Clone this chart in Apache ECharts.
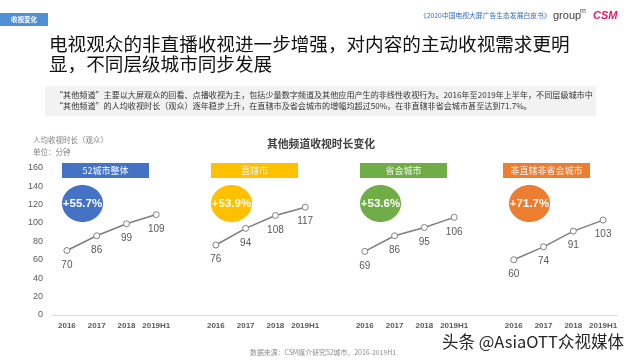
<!DOCTYPE html>
<html>
<head>
<meta charset="utf-8">
<script src="https://cdn.jsdelivr.net/npm/echarts@6/dist/echarts.min.js"></script>
<style>html,body{margin:0;padding:0;background:#fff;}#c{width:640px;height:360px;}</style>
</head>
<body>
<div id="c"></div>
<script>
// ---- data ----
var years = ['2016', '2017', '2018', '2019H1'];
var groupNames = ['52城市整体', '直辖市', '省会城市', '非直辖非省会城市'];
var values52 = [70, 86, 99, 109];
var valuesZhixia = [76, 94, 108, 117];
var valuesShenghui = [69, 86, 95, 106];
var valuesOther = [60, 74, 91, 103];
var growthLabels = ['+55.7%', '+53.9%', '+53.6%', '+71.7%'];
var yTicks = [0, 20, 40, 60, 80, 100, 120, 140, 160];

var groupColors = ['#4472c4', '#ffc000', '#70ad47', '#ed7d31'];
var allValues = [values52, valuesZhixia, valuesShenghui, valuesOther];

// build one category axis: 4 years per group, one empty slot between groups
var cats = [];
var seriesData = [[], [], [], []];
for (var g = 0; g < 4; g++) {
  for (var i = 0; i < years.length; i++) {
    cats.push(years[i]);
    for (var s = 0; s < 4; s++) seriesData[s].push(s === g ? allValues[g][i] : null);
  }
  if (g < 3) {
    cats.push('');
    for (var s2 = 0; s2 < 4; s2++) seriesData[s2].push(null);
  }
}

var cjk = '"Noto Sans CJK SC", "Noto Sans", sans-serif';
var lat = '"Liberation Sans", Arial, sans-serif';

var series = seriesData.map(function (d, idx) {
  return {
    type: 'line',
    name: groupNames[idx],
    data: d,
    connectNulls: false,
    symbol: 'circle',
    symbolSize: 6,
    itemStyle: { color: '#ffffff', borderColor: '#808080', borderWidth: 1 },
    lineStyle: { color: '#7f7f7f', width: 1.5 },
    label: {
      show: true, position: 'bottom', distance: 6,
      fontSize: 10, color: '#595959', fontFamily: lat
    },
    emphasis: { disabled: true },
    silent: true
  };
});

// graphics: headers, ellipses, texts
var headerX = [62, 211, 360, 503];
var ellipseCx = [82.5, 231.5, 380.5, 529.5];
var graphics = [];

// top tag
graphics.push({ type: 'rect', shape: { x: 0, y: 13, width: 48, height: 13 }, style: { fill: '#4f8fd3' } });
graphics.push({ type: 'text', x: 24, y: 19.5, style: { text: '收视变化', fill: '#ffffff', font: 'bold 6.5px ' + cjk, textAlign: 'center', textVerticalAlign: 'middle' } });

// top right
graphics.push({ type: 'text', x: 420, y: 15, style: { text: '《2020中国电视大屏广告生态发展白皮书》', fill: '#2f6eba', font: '6.8px ' + cjk, textVerticalAlign: 'middle' } });
graphics.push({ type: 'text', x: 553, y: 16, style: { text: 'group', fill: '#404040', font: '11px ' + lat, textVerticalAlign: 'middle' } });
graphics.push({ type: 'text', x: 580, y: 11, style: { text: 'm', fill: '#404040', font: '7px ' + lat, textVerticalAlign: 'middle' } });
graphics.push({ type: 'text', x: 593, y: 15.5, style: { text: 'CSM', fill: '#e5196e', font: 'italic bold 11px ' + lat, textVerticalAlign: 'middle' } });

// main title
graphics.push({ type: 'text', x: 49, y: 43.5, style: { text: '电视观众的非直播收视进一步增强，对内容的主动收视需求更明', fill: '#111111', font: '18.6px ' + cjk, textVerticalAlign: 'middle' } });
graphics.push({ type: 'text', x: 49, y: 63.5, style: { text: '显，不同层级城市同步发展', fill: '#111111', font: '18.6px ' + cjk, textVerticalAlign: 'middle' } });

// gray box
graphics.push({ type: 'rect', shape: { x: 45, y: 86, width: 551, height: 30 }, style: { fill: '#f2f2f2' } });
graphics.push({ type: 'text', x: 55, y: 94.5, style: { text: '“其他频道”主要以大屏观众的回看、点播收视为主，包括少量数字频道及其他应用产生的非线性收视行为。2016年至2019年上半年，不同层级城市中', fill: '#333333', font: '8.1px ' + cjk, textVerticalAlign: 'middle' } });
graphics.push({ type: 'text', x: 55, y: 105.5, style: { text: '“其他频道”的人均收视时长（观众）逐年稳步上升，在直辖市及省会城市的增幅均超过50%，在非直辖非省会城市甚至达到71.7%。', fill: '#333333', font: '8.1px ' + cjk, textVerticalAlign: 'middle' } });

// y-axis name
graphics.push({ type: 'text', x: 33, y: 140, style: { text: '人均收视时长（观众）', fill: '#808080', font: '7.5px ' + cjk, textVerticalAlign: 'middle' } });
graphics.push({ type: 'text', x: 33, y: 152, style: { text: '单位：分钟', fill: '#808080', font: '7.5px ' + cjk, textVerticalAlign: 'middle' } });

// chart title
graphics.push({ type: 'text', x: 321, y: 144, style: { text: '其他频道收视时长变化', fill: '#404040', font: 'bold 10.8px ' + cjk, textAlign: 'center', textVerticalAlign: 'middle' } });

for (var k = 0; k < 4; k++) {
  graphics.push({ type: 'rect', shape: { x: headerX[k], y: 163, width: 87, height: 15 }, style: { fill: groupColors[k] } });
  graphics.push({ type: 'text', x: headerX[k] + 43.5, y: 170.5, style: { text: groupNames[k], fill: k === 0 ? '#ffffff' : '#f4f4f4', font: '9px ' + cjk, textAlign: 'center', textVerticalAlign: 'middle' } });
  graphics.push({ type: 'ellipse', shape: { cx: ellipseCx[k], cy: 203.5, rx: 20.5, ry: 18.5 }, style: { fill: groupColors[k] } });
  graphics.push({ type: 'text', x: ellipseCx[k], y: 204, style: { text: growthLabels[k], fill: '#ffffff', font: 'bold 11.5px ' + lat, textAlign: 'center', textVerticalAlign: 'middle' } });
}

// source and watermark
graphics.push({ type: 'text', x: 250, y: 352, style: { text: '数据来源：CSM媒介研究52城市，2016-2019H1', fill: '#8c8c8c', font: '6.9px ' + cjk, textVerticalAlign: 'middle' } });
graphics.push({ type: 'text', x: 442, y: 342, style: { text: '头条 @AsiaOTT众视媒体', fill: '#262626', font: '16.5px ' + cjk, textVerticalAlign: 'middle', stroke: '#ffffff', lineWidth: 1 } });

var chart = echarts.init(document.getElementById('c'), null, { renderer: 'canvas' });
chart.setOption({
  animation: false,
  backgroundColor: '#ffffff',
  grid: { left: 52, right: 22, top: 167.6, bottom: 45, containLabel: false },
  xAxis: {
    type: 'category',
    data: cats,
    boundaryGap: true,
    axisLine: { show: true, lineStyle: { color: '#dcdcdc', width: 1 } },
    axisTick: { show: false },
    axisLabel: { interval: 0, fontSize: 8, fontWeight: 'bold', color: '#595959', fontFamily: lat, margin: 7 },
    splitLine: { show: false }
  },
  yAxis: {
    type: 'value',
    min: yTicks[0],
    max: yTicks[yTicks.length - 1],
    interval: yTicks[1] - yTicks[0],
    axisLine: { show: false },
    axisTick: { show: false },
    splitLine: { show: false },
    axisLabel: { fontSize: 9, color: '#595959', fontFamily: lat, margin: 9 }
  },
  series: series,
  graphic: graphics
});
</script>
</body>
</html>
